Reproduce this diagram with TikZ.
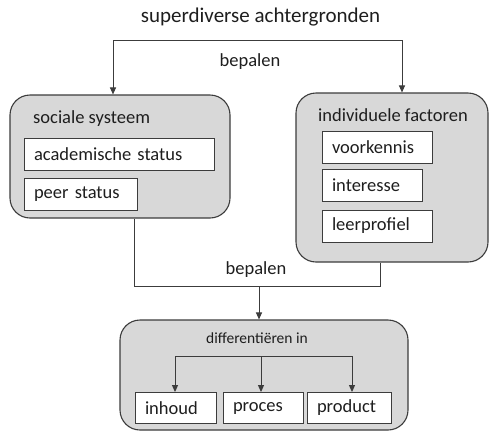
\documentclass[tikz,border=0pt]{standalone}
\usepackage{fontspec}
\setmainfont{Carlito}
\usetikzlibrary{arrows.meta}
\definecolor{boxfill}{RGB}{216,216,216}
\definecolor{edge}{RGB}{60,60,60}
\definecolor{ink}{RGB}{30,30,30}
\begin{document}
\begin{tikzpicture}[x=1pt,y=-1pt,
  outer/.style={draw=edge, line width=1.1pt, fill=boxfill, rounded corners=20pt, inner sep=0pt},
  inbox/.style={draw=edge, line width=0.9pt, fill=white, minimum height=32pt, inner xsep=10pt, inner ysep=0pt, align=left, text=ink, font=\fontsize{18.5}{20}\selectfont},
  lbl/.style={text=ink, inner sep=0pt, font=\fontsize{18.5}{20}\selectfont},
  line/.style={draw=edge, line width=1pt},
  arr/.style={line, -{Triangle[width=6pt,length=7pt]}}]
\useasboundingbox (0,0) rectangle (489,432);
% outer boxes
\node[outer, minimum width=220pt, minimum height=123pt] (L) at (120,156.5) {};
\node[outer, minimum width=192pt, minimum height=169pt] (R) at (392,177.5) {};
\node[outer, minimum width=288pt, minimum height=110pt] (B) at (264,375) {};
% title and labels
\node[lbl, font=\fontsize{21}{24}\selectfont] (title) at (260.5,17) {superdiverse achtergronden};
\node[lbl] (bep1) at (250,62) {bepalen};
\node[lbl] (bep2) at (256,270) {bepalen};
\node[lbl, anchor=west] (soc) at (33,119) {sociale systeem};
\node[lbl, anchor=west] (ind) at (318,115) {individuele factoren};
\node[lbl, font=\fontsize{15.5}{18}\selectfont] (dif) at (257,338) {differentiëren in};
% inner boxes
\node[inbox, text width=170pt] (acad) at (119,154) {academische status};
\node[inbox, text width=93pt] (peer) at (80.5,194) {peer status};
\node[inbox, text width=90pt] (voor) at (377,147) {voorkennis};
\node[inbox, text width=80pt] (inte) at (372,185) {interesse};
\node[inbox, text width=90pt] (leer) at (377,226) {leerprofiel};
\node[inbox, text width=61pt, minimum height=31pt] (inh) at (175.5,408) {inhoud};
\node[inbox, text width=60pt, minimum height=31pt] (pro) at (263,408) {proces};
\node[inbox, text width=64pt, minimum height=31pt] (prd) at (349,408) {product};
% connectors top
\coordinate (tl) at (113,40);
\coordinate (tr) at (402,40);
\draw[line] (tl) -- (tr);
\draw[arr] (tl) -- (L.north -| tl);
\draw[arr] (tr) -- (R.north -| tr);
% connectors middle
\coordinate (j1) at (134,286);
\coordinate (j2) at (380,286);
\coordinate (jm) at (259,286);
\draw[line] (L.south -| j1) -- (j1) -- (j2) -- (R.south -| j2);
\draw[arr] (jm) -- (B.north -| jm);
% connectors bottom
\coordinate (d1) at (175,356);
\coordinate (d2) at (261,356);
\coordinate (d3) at (352,356);
\draw[line] (d1) -- (d3);
\draw[arr] (d1) -- (inh.north -| d1);
\draw[arr] (d2) -- (pro.north -| d2);
\draw[arr] (d3) -- (prd.north -| d3);
\end{tikzpicture}
\end{document}
